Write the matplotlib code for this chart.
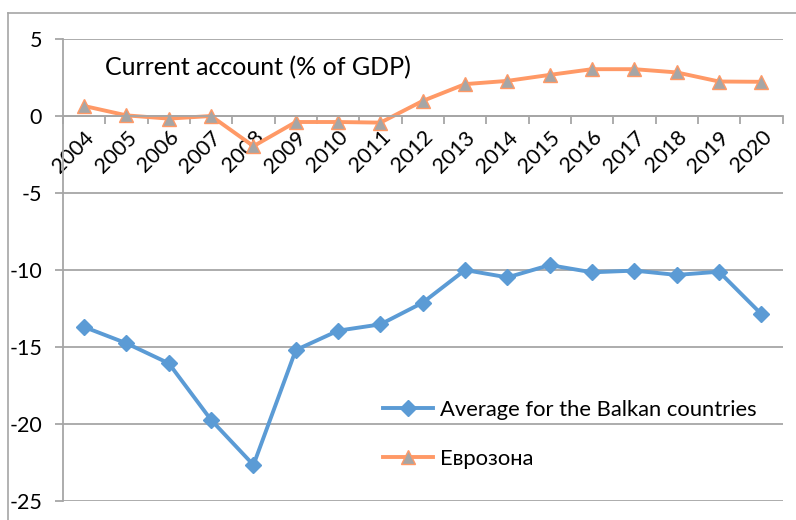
import matplotlib
matplotlib.use("Agg")
import matplotlib.pyplot as plt
from matplotlib.lines import Line2D

plt.rcParams['font.family'] = ['Lato', 'DejaVu Sans']
plt.rcParams['axes.unicode_minus'] = False

years = ['2004', '2005', '2006', '2007', '2008', '2009', '2010', '2011', '2012',
         '2013', '2014', '2015', '2016', '2017', '2018', '2019', '2020']
balkan = [-13.7, -14.76, -16.06, -19.74, -22.66, -15.2, -13.94, -13.53, -12.12,
          -10.0, -10.48, -9.68, -10.15, -10.04, -10.32, -10.11, -12.86]
eurozone = [0.65, 0.04, -0.17, 0.0, -1.96, -0.39, -0.39, -0.43, 0.98,
            2.07, 2.28, 2.67, 3.04, 3.04, 2.83, 2.24, 2.22]

blue = '#5B9BD5'
orange = '#FF9966'
grey = '#A6A6A6'

fig = plt.figure(figsize=(7.96, 5.2), dpi=100)
ax = fig.add_axes([63/796, 19/520, 719.5/796, 462/520])

x = list(range(len(years)))
ax.plot(x, balkan, color=blue, lw=2.8, marker='D', ms=8,
        label='Average for the Balkan countries')
ax.plot(x, eurozone, color=orange, lw=2.8, marker='^', ms=10,
        markerfacecolor=grey, markeredgecolor=orange, markeredgewidth=1,
        label='Еврозона')

ax.set_xlim(-0.5, len(years) - 0.5)
ax.set_ylim(-25, 5)
ax.set_yticks(range(-25, 6, 5))
ax.yaxis.grid(True, color=grey, lw=1.3)
ax.set_axisbelow(True)

for s in ['top', 'right']:
    ax.spines[s].set_visible(False)
ax.spines['left'].set_color(grey)
ax.spines['bottom'].set_color(grey)
ax.spines['bottom'].set_position(('data', 0))
ax.spines['left'].set_linewidth(1.3)
ax.spines['bottom'].set_linewidth(1.3)

ax.set_xticks(x)
ax.set_xticklabels(years, rotation=45, ha='right', va='top', rotation_mode='anchor')
ax.set_xticks([i - 0.5 for i in range(len(years) + 1)], minor=True)
ax.tick_params(axis='x', which='major', length=0, labelsize=15.5, pad=8)
ax.tick_params(axis='x', which='minor', length=6, color=grey, width=1.3)
ax.tick_params(axis='y', length=6, color=grey, width=1.3, labelsize=15.5, pad=9)

ax.text(0.058, 0.937, 'Current account (% of GDP)', transform=ax.transAxes,
        fontsize=18, va='center', ha='left')

ax.legend(loc='upper left', bbox_to_anchor=(0.429, 0.242), frameon=False,
          fontsize=15.8, handlelength=2.3, handletextpad=0.3, labelspacing=1.3,
          borderpad=0)

# outer chart frame
fig.add_artist(Line2D([8/796, 8/796], [0, 1 - 13/520], color=grey, lw=1.2,
                      transform=fig.transFigure))
fig.add_artist(Line2D([8/796, 1], [1 - 13/520, 1 - 13/520], color=grey, lw=1.2,
                      transform=fig.transFigure))

fig.savefig('out.png', dpi=100)
